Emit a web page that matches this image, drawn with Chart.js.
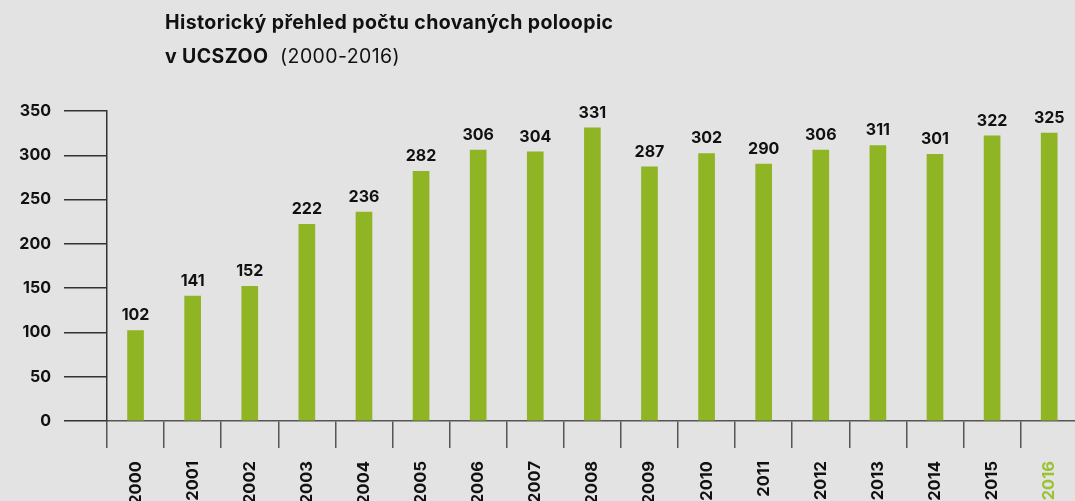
<!DOCTYPE html>
<html>
<head>
<meta charset="utf-8">
<script src="https://cdn.jsdelivr.net/npm/chart.js@4/dist/chart.umd.min.js"></script>
<style>
  html, body { margin: 0; padding: 0; background: #e3e3e3; overflow: hidden; }
  #wrap { position: relative; width: 1075px; height: 501px; overflow: hidden; }
  #title { position: absolute; left: 165px; top: 5px; font-family: Inter, "Liberation Sans", sans-serif; font-size: 19.5px; letter-spacing: 0.4px; line-height: 34px; color: #111; }
  #title b { font-weight: 700; }
  canvas { position: absolute; left: 0; top: 0; }
</style>
</head>
<body>
<div id="wrap">
  <canvas id="barChart" width="1082" height="501"></canvas>
  <div id="title"><b>Historický přehled počtu chovaných poloopic</b><br><b>v UCSZOO</b>&nbsp; (2000-2016)</div>
</div>
<script>
// data
var years = ["2000", "2001", "2002", "2003", "2004", "2005", "2006", "2007", "2008",
             "2009", "2010", "2011", "2012", "2013", "2014", "2015", "2016"];
var counts = [102, 141, 152, 222, 236, 282, 306, 304, 331, 287, 302, 290, 306, 311, 301, 322, 325];
var yTicks = [0, 50, 100, 150, 200, 250, 300, 350];

var green = "#8fb424";
var font = "Inter, 'Liberation Sans', sans-serif";

// values above bars
var valueLabels = {
    id: 'valueLabels',
    afterDatasetsDraw: function (chart) {
        var ctx = chart.ctx;
        var meta = chart.getDatasetMeta(0);
        ctx.save();
        ctx.font = "bold 16px " + font;
        ctx.fillStyle = "#111";
        ctx.textAlign = "center";
        ctx.textBaseline = "bottom";
        meta.data.forEach(function (bar, i) {
            ctx.fillText(counts[i], bar.x, bar.y - 7);
        });
        ctx.restore();
    }
};

var ctxB = document.getElementById("barChart").getContext('2d');
var myBarChart = new Chart(ctxB, {
    type: 'bar',
    data: {
        labels: years,
        datasets: [{
            data: counts,
            backgroundColor: green,
            barThickness: 16
        }]
    },
    options: {
        responsive: false,
        animation: false,
        layout: { padding: { top: 111, right: 0, bottom: 0, left: 0 } },
        plugins: { legend: { display: false }, tooltip: { enabled: false } },
        scales: {
            x: {
                offset: true,
                afterFit: function (scale) { scale.height = 80; },
                border: { display: true, color: "#555", width: 1.5 },
                grid: { offset: true, drawOnChartArea: false, drawTicks: true, tickLength: 27, color: "#555", lineWidth: 1.5 },
                ticks: {
                    minRotation: 90, maxRotation: 90, padding: 13,
                    font: { family: font, size: 16.5, weight: 'bold' },
                    color: function (c) { return c.index === years.length - 1 ? "#9bc232" : "#111"; }
                }
            },
            y: {
                min: 0, max: 350,
                afterFit: function (scale) { scale.width = 107; },
                afterBuildTicks: function (scale) { scale.ticks = yTicks.map(function (v) { return { value: v }; }); },
                border: { display: true, color: "#333", width: 1.5 },
                grid: { drawOnChartArea: false, drawTicks: true, tickLength: 43, color: "#333", lineWidth: 1.5 },
                ticks: {
                    padding: 13,
                    font: { family: font, size: 16, weight: 'bold' },
                    color: "#111"
                }
            }
        }
    },
    plugins: [valueLabels]
});
</script>
</body>
</html>
